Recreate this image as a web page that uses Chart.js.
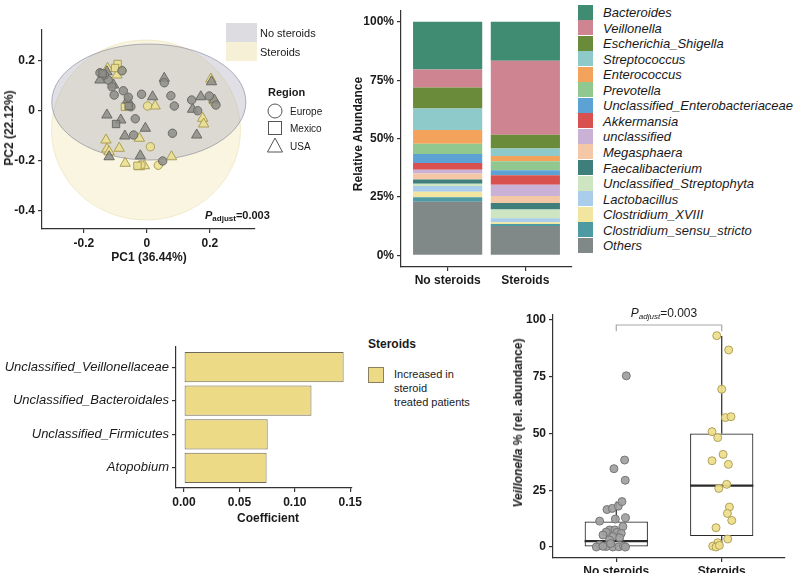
<!DOCTYPE html>
<html>
<head>
<meta charset="utf-8">
<script src="https://cdn.jsdelivr.net/npm/chart.js@4.4.0/dist/chart.umd.min.js"></script>
<style>
body{margin:0;width:800px;height:573px;background:#fff;position:relative;overflow:hidden;font-family:"Liberation Sans",Arial,sans-serif;color:#1a1a1a}
canvas{position:absolute}
.t{position:absolute;white-space:nowrap;transform:translate(-50%,-50%)}
.l{position:absolute;white-space:nowrap;transform:translateY(-50%)}
.rot{transform:translate(-50%,-50%) rotate(-90deg)}
.b{font-weight:bold;font-size:12px}
sub{font-size:8px;vertical-align:-2px}
.box{position:absolute}
</style>
</head>
<body>
<canvas id="pca" width="270" height="280" style="left:0;top:0"></canvas>
<canvas id="stack" width="275" height="300" style="left:300px;top:0"></canvas>
<canvas id="coef" width="365" height="200" style="left:0;top:330px"></canvas>
<canvas id="veil" width="295" height="280" style="left:500px;top:300px"></canvas>

<!-- panel A texts -->
<div class="t rot b" style="left:9px;top:128px">PC2 (22.12%)</div>
<div class="t b" style="left:149px;top:257px">PC1 (36.44%)</div>
<div class="l" style="left:205px;top:216px;font-weight:bold;font-size:11px"><i>P</i><sub>adjust</sub>=0.003</div>
<div class="box" style="left:226px;top:23px;width:31px;height:19px;background:#dcdce1"></div>
<div class="box" style="left:226px;top:42px;width:31px;height:19px;background:#f5f0d6"></div>
<div class="l" style="left:260px;top:33px;font-size:11px">No steroids</div>
<div class="l" style="left:260px;top:52px;font-size:11px">Steroids</div>
<div class="l" style="left:268px;top:92px;font-size:11px;font-weight:bold">Region</div>
<svg class="box" style="left:266px;top:102px" width="20" height="54">
  <circle cx="9" cy="9" r="7" fill="none" stroke="#555" stroke-width="1"/>
  <rect x="2.5" y="19.5" width="13" height="13" fill="none" stroke="#555" stroke-width="1"/>
  <polygon points="9,36 1.5,50 16.5,50" fill="none" stroke="#555" stroke-width="1"/>
</svg>
<div class="l" style="left:290px;top:111px;font-size:10px">Europe</div>
<div class="l" style="left:290px;top:128px;font-size:10px">Mexico</div>
<div class="l" style="left:290px;top:146px;font-size:10px">USA</div>

<!-- panel B texts -->
<div class="t rot b" style="left:358px;top:134px">Relative Abundance</div>
<div id="stackLegend"></div>

<!-- panel C texts -->
<div class="t b" style="left:268px;top:518px">Coefficient</div>
<div class="l" style="left:368px;top:344px;font-size:12px;font-weight:bold">Steroids</div>
<div class="box" style="left:368px;top:367px;width:16px;height:16px;background:#edda87;border:1px solid #8a8060;box-sizing:border-box"></div>
<div class="l" style="left:394px;top:374px;font-size:11px">Increased in</div>
<div class="l" style="left:394px;top:388px;font-size:11px">steroid</div>
<div class="l" style="left:394px;top:402px;font-size:11px">treated patients</div>

<!-- panel D texts -->
<div class="t rot b" style="left:518px;top:423px"><i>Veillonella</i> % (rel. abundance)</div>
<div class="t" style="left:664px;top:313px;font-size:12px"><i>P</i><sub><i>adjust</i></sub>=0.003</div>

<script>
// ---- panel A: PCA ----
const pcaTicksX = [-0.2, 0.0, 0.2];
const pcaTicksY = [-0.4, -0.2, 0.0, 0.2];
const pcaNoX = [-0.149, -0.127, 0.055, 0.018, -0.127, -0.083, -0.061, -0.005, -0.070, -0.021, -0.120, 0.158, 0.145, 0.171, 0.205, -0.106, 0.214,
  -0.149, -0.123, -0.111, -0.104, -0.075, -0.059, -0.017, -0.037, -0.042, 0.076, 0.087, 0.081, 0.142, 0.161, 0.198, 0.219, 0.050, -0.051, -0.079, -0.135, 0.055,
  -0.098, -0.058, -0.141];
const pcaNoY = [0.124, 0.157, 0.131, 0.057, -0.016, -0.036, 0.044, -0.069, -0.100, -0.179, -0.183, -0.096, 0.007, 0.057, 0.117, 0.104, 0.044,
  0.153, 0.124, 0.097, 0.064, 0.081, 0.055, 0.067, -0.031, -0.096, 0.061, 0.020, -0.089, 0.044, 0.001, 0.060, 0.024, -0.200, 0.017, 0.161, 0.144, 0.113,
  -0.052, 0.020, 0.150];
const pcaNoRegion = ['USA','USA','USA','USA','USA','USA','USA','USA','USA','USA','USA','USA','USA','USA','USA','USA','USA',
  'Europe','Europe','Europe','Europe','Europe','Europe','Europe','Europe','Europe','Europe','Europe','Europe','Europe','Europe','Europe','Europe','Europe','Europe','Europe','Europe','Europe',
  'Mexico','Mexico','Mexico'];
const pcaStX = [-0.125, -0.095, -0.130, -0.127, -0.088, -0.024, -0.069, -0.024, -0.008, 0.026, 0.177, 0.180, 0.078, 0.203, -0.120,
  -0.080, 0.011, 0.036, 0.002, 0.210, -0.019,
  -0.093, -0.101, -0.070, -0.030];
const pcaStY = [0.171, 0.144, -0.116, -0.152, -0.149, -0.109, -0.209, -0.223, -0.219, 0.020, -0.029, -0.052, -0.183, 0.128, -0.163,
  0.163, -0.143, -0.217, 0.020, 0.037, -0.216,
  0.188, 0.172, 0.017, -0.219];
const pcaStRegion = ['USA','USA','USA','USA','USA','USA','USA','USA','USA','USA','USA','USA','USA','USA','USA',
  'Europe','Europe','Europe','Europe','Europe','Europe',
  'Mexico','Mexico','Mexico','Mexico'];
// ellipse per group: centre and radii in PC units
const ellipseCx = [0.006, -0.003];
const ellipseCy = [0.036, -0.076];
const ellipseRx = [0.308, 0.300];
const ellipseRy = [0.232, 0.360];

// ---- panel B: relative abundance ----
const genera = ['Bacteroides','Veillonella','Escherichia_Shigella','Streptococcus','Enterococcus','Prevotella',
  'Unclassified_Enterobacteriaceae','Akkermansia','unclassified','Megasphaera','Faecalibacterium',
  'Unclassified_Streptophyta','Lactobacillus','Clostridium_XVIII','Clostridium_sensu_stricto','Others'];
const abundNoSteroids = [20.4, 7.7, 9.0, 9.2, 5.9, 4.4, 3.9, 2.8, 1.7, 2.5, 1.8, 1.0, 2.5, 2.3, 1.9, 23.0];
const abundSteroids   = [16.7, 31.7, 5.8, 3.2, 2.3, 3.9, 2.1, 4.1, 4.8, 3.0, 2.8, 3.7, 1.7, 0.8, 0.8, 12.6];
const groups = ['No steroids', 'Steroids'];
const pctTicks = [0, 25, 50, 75, 100];

// ---- panel C: coefficients ----
const taxa = ['Unclassified_Veillonellaceae','Unclassified_Bacteroidales','Unclassified_Firmicutes','Atopobium'];
const coefs = [0.144, 0.115, 0.0755, 0.0745];
const coefTicks = [0, 0.05, 0.10, 0.15];

// ---- panel D: Veillonella boxplot ----
const veilNoX = [1.095, 1.079, 0.978, 1.085, 0.912, 0.962, 1.019, 1.054, 1.088, 0.991, 1.063, 0.842, 0.937, 0.987, 0.905, 1.006, 1.047,
  0.874, 0.968, 1.032, 0.937, 0.842, 0.905, 0.968, 1.025, 1.069, 0.811, 0.874, 1.088, 0.946];
const veilNoY = [75.4, 38.3, 34.5, 29.4, 16.5, 17.0, 18.0, 20.0, 12.9, 12.3, 9.0, 11.4, 7.5, 7.5, 6.6, 6.5, 6.0,
  5.3, 4.6, 4.1, 3.1, 0.9, 0.2, 0.0, 0.1, 0.4, 0.0, 0.3, 0.0, 1.5];
const veilStX = [1.953, 2.066, 2.0, 2.035, 2.088, 1.908, 1.962, 2.013, 1.908, 2.063, 2.047, 1.972, 2.073, 2.054, 2.095, 1.946, 2.057, 1.962, 1.915, 1.946, 1.978];
const veilStY = [93.1, 86.8, 69.5, 57.0, 57.4, 50.8, 48.2, 40.8, 38.0, 36.4, 27.6, 25.8, 17.6, 14.8, 11.7, 8.5, 3.5, 1.9, 0.4, 0.0, 0.7];
const boxLow    = [0, 0];
const boxQ1     = [0, 4.8];
const boxMedian = [2.6, 27];
const boxQ3     = [11.2, 50];
const boxHigh   = [20, 93];
const veilTicks = [0, 25, 50, 75, 100];
const bracketY = 97.8, bracketDrop = 95;

// styles
const genusColors = ['#3f8c72','#cf8591','#6a8b3a','#8fcaca','#f3a35b','#90c890','#5ca2d5','#d8514f',
  '#c9b2d6','#f4c8a6','#3e7f7b','#cde5c0','#a9cdea','#f1e59f','#4e9aa3','#808888'];
const regionStyle = {Europe: 'circle', Mexico: 'rect', USA: 'triangle'};
const regionRadius = {Europe: 4.2, Mexico: 5.2, USA: 6};

Chart.defaults.font.family = '"Liberation Sans", Arial, sans-serif';
Chart.defaults.color = '#1a1a1a';
const tickFont = {size: 12, weight: 'bold'};

function axis(extra) {
  return Object.assign({
    offset: false,
    border: {display: true, color: '#333', width: 1.2},
    grid: {drawOnChartArea: false, drawTicks: true, tickLength: 4, color: '#333', lineWidth: 1.2, offset: false},
    ticks: {font: tickFont, color: '#1a1a1a', padding: 3, maxRotation: 0, autoSkip: false}
  }, extra);
}
const base = {responsive: false, animation: false, devicePixelRatio: 1,
  plugins: {legend: {display: false}, tooltip: {enabled: false}}};

// A
new Chart(document.getElementById('pca'), {
  type: 'scatter',
  data: {datasets: [
    {data: pcaNoX.map((x, i) => ({x, y: pcaNoY[i]})),
     pointStyle: pcaNoRegion.map(r => regionStyle[r]), pointRadius: pcaNoRegion.map(r => regionRadius[r]),
     backgroundColor: 'rgba(142,142,136,0.85)', borderColor: '#6a6a63', borderWidth: 1},
    {data: pcaStX.map((x, i) => ({x, y: pcaStY[i]})),
     pointStyle: pcaStRegion.map(r => regionStyle[r]), pointRadius: pcaStRegion.map(r => regionRadius[r]),
     backgroundColor: 'rgba(236,224,145,0.88)', borderColor: '#aa9d58', borderWidth: 1}
  ]},
  options: Object.assign({}, base, {
    layout: {padding: {top: 30, right: 15, left: 0, bottom: 0}},
    scales: {
      x: axis({type: 'linear', min: -0.333, max: 0.343,
        afterBuildTicks: s => { s.ticks = pcaTicksX.map(v => ({value: v})); },
        afterFit: s => { s.height = 51; }}),
      y: axis({type: 'linear', min: -0.472, max: 0.324,
        afterBuildTicks: s => { s.ticks = pcaTicksY.map(v => ({value: v})); },
        afterFit: s => { s.width = 42; }})
    }
  }),
  plugins: [{
    id: 'ellipses',
    beforeDatasetsDraw(chart) {
      const {ctx, scales: {x, y}} = chart;
      const fills = ['rgba(165,165,182,0.36)', 'rgba(238,226,168,0.34)'];
      const lines = ['rgba(120,120,140,0.55)', 'rgba(225,212,150,0.4)'];
      ctx.save();
      for (const i of [1, 0]) {
        const cx = x.getPixelForValue(ellipseCx[i]), cy = y.getPixelForValue(ellipseCy[i]);
        const rx = Math.abs(x.getPixelForValue(ellipseCx[i] + ellipseRx[i]) - cx);
        const ry = Math.abs(y.getPixelForValue(ellipseCy[i] + ellipseRy[i]) - cy);
        ctx.beginPath();
        ctx.ellipse(cx, cy, rx, ry, 0, 0, Math.PI * 2);
        ctx.fillStyle = fills[i]; ctx.fill();
        ctx.strokeStyle = lines[i]; ctx.lineWidth = 1; ctx.stroke();
      }
      ctx.restore();
    }
  }]
});

// B
const order = genera.map((g, i) => i).reverse();
new Chart(document.getElementById('stack'), {
  type: 'bar',
  data: {datasets: order.map(i => ({
    label: genera[i],
    data: [{x: 1, y: abundNoSteroids[i]}, {x: 2, y: abundSteroids[i]}],
    backgroundColor: genusColors[i], borderWidth: 0, barPercentage: 0.89, categoryPercentage: 1
  }))},
  options: Object.assign({}, base, {
    layout: {padding: {top: 1, right: 3, left: 0, bottom: 0}},
    scales: {
      x: axis({type: 'linear', stacked: true, min: 0.4, max: 2.6,
        afterBuildTicks: s => { s.ticks = groups.map((g, i) => ({value: i + 1})); },
        ticks: {font: tickFont, color: '#1a1a1a', padding: 2, maxRotation: 0, autoSkip: false, callback: (v, i) => groups[i]},
        afterFit: s => { s.height = 33; }}),
      y: axis({stacked: true, min: -5, max: 105,
        afterBuildTicks: s => { s.ticks = pctTicks.map(v => ({value: v})); },
        ticks: {font: tickFont, color: '#1a1a1a', padding: 3, callback: v => v + '%'},
        afterFit: s => { s.width = 101; }})
    }
  })
});

// B legend
const lg = document.getElementById('stackLegend');
genera.forEach((g, i) => {
  const cy = 12 + i * 15.55;
  lg.insertAdjacentHTML('beforeend',
    `<div class="box" style="left:578px;top:${cy - 7.5}px;width:15px;height:15px;background:${genusColors[i]}"></div>` +
    `<div class="l" style="left:603px;top:${cy}px;font-size:13px;font-style:italic">${g}</div>`);
});

// C
new Chart(document.getElementById('coef'), {
  type: 'bar',
  data: {datasets: [{
    data: coefs.map((c, i) => ({x: c, y: i + 1})),
    backgroundColor: '#edda87', borderColor: '#6f6a58', borderWidth: 1, borderSkipped: false,
    barPercentage: 0.9, categoryPercentage: 1
  }]},
  options: Object.assign({}, base, {
    indexAxis: 'y',
    layout: {padding: {top: 17, right: 4, left: 0, bottom: 0}},
    scales: {
      x: axis({type: 'linear', min: -0.0072, max: 0.1515,
        afterBuildTicks: s => { s.ticks = coefTicks.map(v => ({value: v})); },
        ticks: {font: tickFont, color: '#1a1a1a', padding: 3, maxRotation: 0, callback: v => v.toFixed(2)},
        afterFit: s => { s.height = 42; }}),
      y: axis({type: 'linear', min: 0.4, max: 4.6, reverse: true,
        afterBuildTicks: s => { s.ticks = taxa.map((t, i) => ({value: i + 1})); },
        ticks: {font: {size: 13, style: 'italic'}, color: '#1a1a1a', padding: 3, callback: (v, i) => taxa[i]},
        afterFit: s => { s.width = 176; }})
    }
  })
});

// D
new Chart(document.getElementById('veil'), {
  type: 'bar',
  data: {datasets: [
    {type: 'scatter', order: 0, data: veilNoX.map((x, i) => ({x, y: veilNoY[i]})),
     pointRadius: 4, backgroundColor: 'rgba(160,160,160,0.92)', borderColor: '#767676', borderWidth: 1},
    {type: 'scatter', order: 0, data: veilStX.map((x, i) => ({x, y: veilStY[i]})),
     pointRadius: 4, backgroundColor: 'rgba(238,222,138,0.92)', borderColor: '#b0a15a', borderWidth: 1},
    {type: 'bar', order: 1, label: 'box', data: groups.map((g, i) => ({x: i + 1, y: [boxQ1[i], boxQ3[i]]})),
     backgroundColor: '#ffffff', borderColor: '#2a2a2a', borderWidth: 1.2, borderSkipped: false,
     barPercentage: 0.6, categoryPercentage: 1}
  ]},
  options: Object.assign({}, base, {
    layout: {padding: {top: 15, right: 10, left: 0, bottom: 0}},
    scales: {
      x: axis({type: 'linear', min: 0.4, max: 2.6,
        afterBuildTicks: s => { s.ticks = groups.map((g, i) => ({value: i + 1})); },
        ticks: {font: tickFont, color: '#1a1a1a', padding: 2, maxRotation: 0, autoSkip: false, callback: (v, i) => groups[i]},
        afterFit: s => { s.height = 22; }}),
      y: axis({type: 'linear', min: -4.85, max: 102.2,
        afterBuildTicks: s => { s.ticks = veilTicks.map(v => ({value: v})); },
        afterFit: s => { s.width = 53; }})
    }
  }),
  plugins: [{
    id: 'boxParts',
    afterDatasetDraw(chart, args) {
      if (args.meta.type !== 'bar') return;
      const {ctx, scales: {y}} = chart;
      ctx.save();
      ctx.strokeStyle = '#2a2a2a';
      args.meta.data.forEach((el, i) => {
        ctx.lineWidth = 1.2;
        ctx.beginPath();
        ctx.moveTo(el.x, y.getPixelForValue(boxQ3[i])); ctx.lineTo(el.x, y.getPixelForValue(boxHigh[i]));
        ctx.moveTo(el.x, y.getPixelForValue(boxQ1[i])); ctx.lineTo(el.x, y.getPixelForValue(boxLow[i]));
        ctx.stroke();
        ctx.lineWidth = 2.2;
        ctx.beginPath();
        const m = y.getPixelForValue(boxMedian[i]);
        ctx.moveTo(el.x - el.width / 2, m); ctx.lineTo(el.x + el.width / 2, m);
        ctx.stroke();
      });
      ctx.restore();
    },
    afterDraw(chart) {
      const {ctx, scales: {x, y}} = chart;
      const x1 = x.getPixelForValue(1), x2 = x.getPixelForValue(2);
      const yt = y.getPixelForValue(bracketY), yb = y.getPixelForValue(bracketDrop);
      ctx.save();
      ctx.strokeStyle = '#a8a8a8'; ctx.lineWidth = 1.2;
      ctx.beginPath();
      ctx.moveTo(x1, yb); ctx.lineTo(x1, yt); ctx.lineTo(x2, yt); ctx.lineTo(x2, yb);
      ctx.stroke();
      ctx.restore();
    }
  }]
});
</script>
</body>
</html>
